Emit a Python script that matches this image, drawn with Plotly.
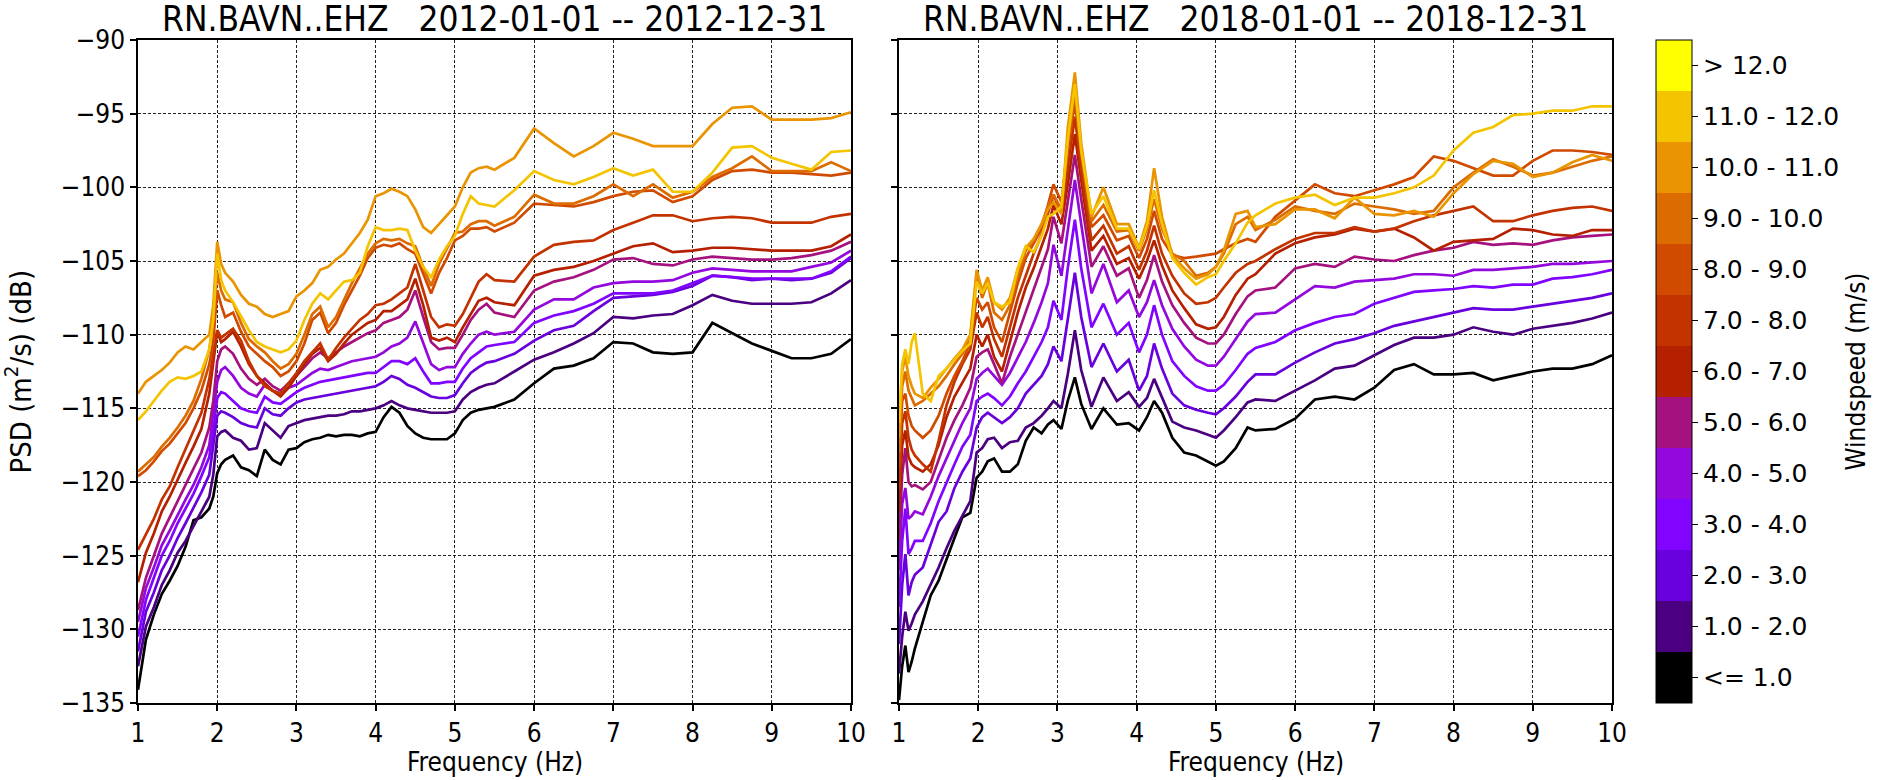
import plotly.graph_objects as go

# ---------------- data ----------------
FREQ_2012 = [1.0, 1.1, 1.2, 1.3, 1.4, 1.5, 1.6, 1.7, 1.8, 1.9,
             1.95, 2.0, 2.05,
             2.1, 2.2, 2.3, 2.4, 2.5, 2.6, 2.7, 2.8, 2.9, 3.0,
             3.1, 3.2, 3.3, 3.4, 3.5, 3.6, 3.7, 3.8, 3.9, 4.0,
             4.1, 4.2, 4.3, 4.4, 4.5, 4.6, 4.7, 4.8, 4.9, 5.0,
             5.1, 5.2, 5.3, 5.4, 5.5,
             5.75, 6.0, 6.25, 6.5, 6.75, 7.0, 7.25, 7.5, 7.75, 8.0, 8.25, 8.5, 8.75, 9.0, 9.25, 9.5, 9.75, 10.0]

PSD_2012_W00 = [-134.1, -130.7, -129.0, -127.6, -126.7, -125.7, -124.4, -122.6, -122.4, -121.8,
                -121.0, -119.4, -118.8,
                -118.5, -118.2, -119.0, -119.2, -119.6, -117.8, -118.5, -118.8, -117.8, -117.7,
                -117.3, -117.1, -117.0, -116.8, -116.9, -116.8, -116.8, -116.9, -116.7, -116.6,
                -115.6, -114.9, -115.3, -116.2, -116.7, -117.0, -117.1, -117.1, -117.1, -116.7,
                -115.8, -115.3, -115.1, -115.0, -114.9,
                -114.4, -113.3, -112.3, -112.1, -111.6, -110.5, -110.6, -111.2, -111.3, -111.2, -109.2, -109.9, -110.6, -111.1, -111.6, -111.6, -111.3, -110.3]
PSD_2012_W01 = [-132.5, -129.8, -128.5, -127.0, -126.0, -124.8, -124.0, -123.0, -122.0, -121.0,
                -119.5, -116.9, -116.6,
                -116.5, -117.0, -117.2, -117.8, -117.7, -116.0, -116.5, -117.0, -116.2, -116.0,
                -115.8, -115.7, -115.6, -115.5, -115.5, -115.4, -115.2, -115.2, -115.1, -115.0,
                -114.8, -114.5, -114.8, -115.0, -115.1, -115.2, -115.3, -115.3, -115.3, -115.2,
                -114.4, -113.9, -113.6, -113.4, -113.3,
                -112.5, -111.7, -111.2, -110.6, -109.9, -108.8, -108.9, -108.7, -108.6, -108.0, -107.3, -107.7, -107.9, -107.9, -107.9, -107.8, -107.2, -106.3]
PSD_2012_W02 = [-131.5, -128.8, -127.5, -126.0, -125.0, -123.8, -122.8, -121.8, -120.7, -119.5,
                -117.5, -115.5, -115.2,
                -115.3, -115.6, -116.0, -116.2, -116.3, -115.0, -115.4, -115.5, -115.0, -114.6,
                -114.4, -114.3, -114.2, -114.1, -114.0, -113.9, -113.8, -113.7, -113.6, -113.5,
                -113.2, -112.8, -113.0, -113.4, -113.6, -113.9, -114.2, -114.3, -114.3, -114.1,
                -113.3, -112.6, -112.2, -111.9, -111.8,
                -111.3, -110.4, -109.7, -109.4, -108.4, -107.5, -107.4, -107.3, -107.1, -106.7, -106.0, -106.1, -106.3, -106.2, -106.3, -106.2, -105.8, -104.8]
PSD_2012_W03 = [-130.5, -128.0, -126.5, -125.0, -124.0, -122.8, -121.8, -120.8, -119.6, -118.3,
                -116.5, -114.3, -113.9,
                -114.0, -114.5, -115.0, -115.2, -115.3, -114.2, -114.6, -114.7, -114.3, -113.9,
                -113.6, -113.4, -113.2, -113.1, -113.0, -112.9, -112.8, -112.7, -112.6, -112.6,
                -112.2, -111.8, -111.8, -112.0, -111.6, -112.5, -113.3, -113.3, -113.2, -113.2,
                -112.3, -111.6, -111.2, -110.8, -110.7,
                -110.5, -109.2, -108.7, -108.4, -107.9, -107.2, -107.2, -107.2, -107.0, -106.5, -106.0, -106.1, -106.2, -106.2, -106.2, -106.2, -105.7, -104.7]
PSD_2012_W04 = [-129.5, -127.2, -125.8, -124.3, -123.3, -122.2, -121.2, -120.2, -119.0, -117.5,
                -115.5, -113.2, -112.4,
                -112.2, -112.8, -113.6, -114.0, -114.2, -113.4, -113.8, -114.0, -113.6, -113.4,
                -113.0, -112.6, -112.3, -112.4, -112.2, -112.0, -111.8, -111.7, -111.6, -111.5,
                -111.2, -110.8, -110.6, -110.2, -109.1, -110.6, -112.0, -112.4, -112.2, -112.2,
                -111.3, -110.6, -110.0, -109.8, -110.0,
                -109.8, -108.3, -107.6, -107.6, -106.8, -106.5, -106.4, -106.4, -106.3, -105.8, -105.5, -105.6, -105.7, -105.7, -105.7, -105.4, -105.1, -104.3]
PSD_2012_W05 = [-128.7, -126.5, -125.0, -123.5, -122.4, -121.3, -120.2, -119.2, -118.0, -116.3,
                -114.5, -111.8, -111.0,
                -110.8, -111.3, -112.3, -113.0, -113.4, -113.0, -113.5, -113.8, -113.3, -112.8,
                -112.2, -111.6, -111.2, -111.6, -111.2, -110.8, -110.5, -110.2, -109.9, -109.7,
                -109.2, -109.0, -108.8, -108.3, -107.0, -108.8, -110.5, -111.0, -110.9, -110.9,
                -110.0, -109.0, -108.3, -107.9, -108.5,
                -108.8, -107.0, -106.4, -106.1, -105.6, -104.9, -104.8, -105.2, -105.3, -104.9, -104.7, -104.8, -104.9, -104.9, -104.8, -104.6, -104.3, -103.7]
PSD_2012_W06 = [-126.8, -124.8, -123.5, -122.0, -121.0, -119.8, -118.7, -117.6, -116.4, -114.0,
                -112.0, -109.8, -110.5,
                -110.3, -109.8, -110.8, -112.0, -112.8, -113.3, -113.8, -114.2, -113.6, -112.8,
                -112.0, -111.3, -110.9, -111.8, -111.3, -110.6, -110.0, -109.6, -109.2, -109.0,
                -108.4, -108.4, -108.0, -107.6, -106.2, -108.0, -110.2, -110.4, -110.2, -110.5,
                -109.5, -108.6, -107.7, -107.5, -107.8,
                -108.0, -106.0, -105.6, -105.4, -105.0, -104.5, -104.0, -103.8, -104.4, -104.3, -104.1, -104.1, -104.2, -104.3, -104.3, -104.3, -104.0, -103.2]
PSD_2012_W07 = [-124.6, -123.5, -122.5, -121.2, -120.3, -119.0, -117.8, -116.6, -115.3, -113.0,
                -111.2, -109.7, -110.2,
                -110.0, -109.6, -110.4, -111.8, -112.8, -113.5, -113.8, -114.0, -113.3, -112.6,
                -111.8, -111.2, -110.6, -111.7, -110.9, -110.2, -109.6, -109.0, -108.6, -108.0,
                -107.9, -107.6, -107.2, -106.8, -105.2, -107.0, -108.8, -109.5, -109.3, -109.4,
                -108.6, -107.5, -106.4, -105.9, -106.3,
                -106.4, -104.7, -103.9, -103.7, -103.6, -102.9, -102.4, -101.9, -101.9, -102.3, -102.1, -102.0, -102.1, -102.4, -102.4, -102.4, -102.0, -101.8]
PSD_2012_W08 = [-119.6, -119.2, -118.6, -117.9, -117.4, -116.7, -116.0, -115.0, -113.8, -112.0,
                -110.5, -107.0, -108.0,
                -108.8, -108.5, -109.8, -110.8, -111.3, -111.8, -112.2, -112.8, -112.5, -111.8,
                -110.6, -109.0, -108.5, -109.9, -109.2, -108.0, -107.0, -106.0, -104.8, -104.1,
                -103.9, -104.0, -103.8, -104.2, -104.5, -105.8, -107.2, -105.8, -104.8, -103.6,
                -103.3, -102.8, -102.8, -102.7, -103.0,
                -102.4, -101.1, -101.2, -101.3, -101.0, -100.6, -100.3, -100.2, -101.0, -100.6, -99.5, -98.9, -98.8, -99.0, -99.0, -99.1, -99.2, -99.0]
PSD_2012_W09 = [-119.3, -118.8, -118.3, -117.6, -117.0, -116.3, -115.5, -114.5, -113.0, -111.0,
                -109.0, -105.8, -107.0,
                -107.6, -107.8, -109.2, -110.3, -110.8, -111.2, -111.8, -112.3, -112.0, -111.3,
                -110.0, -108.6, -108.1, -109.5, -108.8, -107.6, -106.5, -105.5, -104.5, -103.8,
                -103.5, -103.6, -103.5, -103.8, -104.0, -105.4, -106.7, -105.2, -104.2, -103.1,
                -103.0, -102.5, -102.3, -102.3, -102.6,
                -102.0, -100.5, -101.1, -101.1, -100.6, -99.8, -100.6, -99.8, -100.7, -100.3, -99.3, -98.7, -97.9, -98.9, -98.9, -98.9, -98.3, -98.9]
PSD_2012_W10 = [-114.0, -113.2, -112.8, -112.4, -111.9, -111.2, -110.8, -111.0, -110.5, -110.0,
                -108.0, -103.7, -105.2,
                -105.8, -106.4, -107.3, -107.9, -108.1, -108.6, -108.8, -108.6, -108.4, -107.4,
                -107.0, -106.5, -105.6, -105.4, -104.9, -104.5, -103.8, -103.1, -102.2, -100.6,
                -100.4, -100.1, -100.3, -100.6, -101.5, -102.7, -103.1, -102.5, -101.9, -101.3,
                -100.0, -99.0, -98.7, -98.6, -98.8,
                -98.0, -96.0, -97.0, -97.9, -97.2, -96.3, -96.7, -97.2, -97.2, -97.2, -95.7, -94.6, -94.5, -95.4, -95.4, -95.4, -95.3, -94.9]
PSD_2012_W11 = [-115.8, -115.2, -114.5, -113.8, -113.2, -112.9, -113.0, -112.8, -112.5, -111.0,
                -109.0, -104.5, -106.3,
                -107.0, -107.8, -108.8, -109.7, -110.5, -110.8, -111.0, -111.2, -111.0, -110.4,
                -109.0, -107.9, -107.2, -107.6, -107.0, -106.4, -106.3, -105.8, -104.0, -102.7,
                -102.9, -102.9, -102.8, -102.9, -104.3, -105.4, -106.1, -104.9, -104.0, -103.3,
                -101.8, -100.6, -101.1, -101.2, -101.3,
                -100.2, -98.9, -99.5, -99.8, -99.3, -98.7, -99.2, -98.8, -100.3, -100.3, -99.0, -97.3, -97.2, -98.0, -98.4, -98.8, -97.6, -97.5]

FREQ_2018 = [1.0, 1.04, 1.08, 1.12, 1.16, 1.2, 1.3, 1.4, 1.5, 1.6, 1.7, 1.8, 1.9,
             1.98, 2.05, 2.12, 2.2, 2.3, 2.4, 2.5, 2.6, 2.7, 2.8,
             2.88, 2.95, 3.05, 3.13, 3.22, 3.3, 3.43, 3.58, 3.75, 3.9, 4.03, 4.13, 4.22, 4.32, 4.45,
             4.6, 4.75, 4.9, 5.0, 5.1, 5.25, 5.4, 5.5,
             5.75, 6.0, 6.25, 6.5, 6.75, 7.0, 7.25, 7.5, 7.75, 8.0, 8.25, 8.5, 8.75, 9.0, 9.25, 9.5, 9.75, 10.0]

PSD_2018_W00 = [-134.8, -132.5, -131.1, -132.9, -132.2, -131.3, -129.5, -127.7, -126.7, -125.2, -123.8, -122.4, -122.1,
                -119.7, -119.3, -118.6, -118.4, -119.3, -119.3, -118.8, -117.2, -116.3, -116.7,
                -116.1, -115.8, -116.4, -114.5, -112.9, -114.7, -116.4, -115.0, -116.1, -116.0, -116.5, -115.6, -114.5, -115.3, -117.0,
                -118.0, -118.2, -118.6, -118.9, -118.6, -117.7, -116.3, -116.5,
                -116.4, -115.7, -114.4, -114.2, -114.4, -113.6, -112.4, -112.0, -112.7, -112.7, -112.6, -113.1, -112.8, -112.5, -112.3, -112.3, -112.0, -111.4]
PSD_2018_W01 = [-133.0, -130.5, -128.8, -130.1, -129.6, -129.0, -128.1, -127.0, -125.8, -124.5, -123.3, -122.3, -121.3,
                -118.0, -117.7, -117.1, -117.0, -117.7, -117.3, -117.2, -116.3, -116.0, -115.5,
                -115.0, -114.5, -115.0, -112.7, -109.7, -112.4, -114.9, -112.9, -114.5, -113.9, -114.9, -114.3, -113.0, -114.3, -115.9,
                -116.3, -116.5, -116.8, -117.0, -116.5, -115.6, -114.6, -114.4,
                -114.5, -113.8, -113.1, -112.3, -112.1, -111.4, -110.7, -110.2, -110.2, -110.0, -109.5, -109.8, -110.0, -109.6, -109.4, -109.2, -108.9, -108.5]
PSD_2018_W02 = [-131.0, -127.0, -124.9, -127.7, -126.8, -126.3, -125.8, -124.3, -122.7, -122.0, -120.4, -119.3, -118.4,
                -116.3, -115.6, -115.3, -115.6, -116.0, -115.6, -115.0, -114.0, -113.4, -112.8,
                -112.0, -110.8, -111.8, -109.0, -105.8, -108.8, -112.2, -110.6, -112.5, -111.7, -113.8, -112.8, -110.6, -112.3, -114.0,
                -114.8, -115.1, -115.3, -115.4, -115.0, -114.2, -113.2, -112.7,
                -112.7, -111.9, -111.2, -110.6, -110.3, -109.9, -109.4, -109.1, -108.8, -108.5, -108.2, -108.3, -108.3, -108.1, -107.9, -107.7, -107.5, -107.2]
PSD_2018_W03 = [-128.5, -124.0, -121.8, -124.9, -124.5, -124.0, -124.0, -122.8, -121.3, -120.0, -118.8, -117.6, -116.8,
                -114.5, -114.2, -114.0, -114.3, -114.8, -114.2, -113.3, -112.5, -111.5, -110.5,
                -109.5, -107.7, -109.0, -105.5, -102.2, -105.5, -109.5, -107.9, -110.0, -109.2, -111.2, -110.0, -108.0, -110.0, -111.8,
                -112.8, -113.5, -113.8, -113.8, -113.4, -112.4, -111.3, -110.9,
                -110.5, -109.7, -109.2, -108.8, -108.6, -107.9, -107.5, -107.1, -107.0, -106.9, -106.7, -106.8, -106.6, -106.6, -106.2, -106.1, -105.9, -105.6]
PSD_2018_W04 = [-126.0, -121.5, -120.4, -122.5, -122.3, -122.0, -122.2, -121.0, -119.6, -118.4, -117.2, -116.0, -115.0,
                -113.0, -112.6, -112.3, -112.8, -113.4, -112.6, -111.6, -110.5, -109.2, -107.8,
                -106.5, -103.9, -106.0, -103.0, -99.5, -102.5, -107.2, -105.2, -107.8, -107.0, -108.8, -107.8, -106.3, -108.0, -109.6,
                -110.8, -111.7, -112.1, -112.1, -111.5, -110.3, -109.1, -108.6,
                -108.5, -107.6, -106.7, -106.8, -106.4, -106.3, -106.2, -105.9, -105.9, -106.0, -105.6, -105.6, -105.5, -105.4, -105.2, -105.2, -105.1, -105.0]
PSD_2018_W05 = [-124.0, -119.5, -117.7, -120.0, -120.3, -120.2, -120.5, -120.0, -118.5, -117.0, -115.8, -114.8, -113.6,
                -111.5, -111.2, -111.0, -112.0, -113.3, -111.5, -110.0, -108.5, -107.0, -105.5,
                -104.2, -102.0, -103.8, -101.0, -97.8, -100.8, -105.4, -104.0, -106.0, -105.5, -107.5, -106.3, -104.6, -106.4, -108.0,
                -109.2, -110.2, -110.6, -110.6, -110.0, -108.6, -107.4, -107.0,
                -106.8, -105.5, -105.2, -105.4, -104.7, -104.9, -105.0, -104.6, -104.3, -104.1, -103.7, -103.9, -103.8, -103.9, -103.6, -103.4, -103.3, -103.2]
PSD_2018_W06 = [-122.0, -117.5, -116.5, -118.3, -118.8, -119.0, -119.3, -118.8, -117.5, -115.6, -114.2, -113.2, -112.3,
                -110.0, -110.8, -110.0, -111.5, -112.5, -110.5, -108.5, -106.8, -105.5, -104.0,
                -102.8, -101.2, -102.5, -99.8, -96.4, -99.5, -104.3, -103.3, -105.2, -104.8, -106.2, -105.0, -103.6, -105.3, -107.0,
                -108.2, -109.3, -109.6, -109.5, -108.8, -107.3, -106.2, -105.9,
                -104.5, -103.8, -103.4, -103.2, -102.8, -103.0, -102.8, -103.4, -104.3, -103.7, -103.6, -103.5, -102.8, -102.9, -103.2, -103.3, -102.9, -102.9]
PSD_2018_W07 = [-120.5, -116.0, -115.2, -117.0, -117.8, -118.2, -118.8, -119.3, -117.2, -114.8, -113.2, -112.0, -111.0,
                -108.5, -109.5, -108.8, -110.3, -111.5, -109.5, -107.5, -106.0, -104.5, -103.2,
                -101.8, -100.5, -101.8, -98.8, -95.2, -98.8, -103.6, -102.6, -104.5, -104.0, -105.6, -104.3, -102.6, -104.5, -106.0,
                -107.2, -107.9, -107.8, -107.5, -106.8, -105.8, -105.2, -105.0,
                -104.2, -103.5, -103.1, -103.1, -102.7, -103.0, -102.8, -102.3, -101.9, -101.6, -101.3, -102.3, -102.3, -101.9, -101.6, -101.4, -101.3, -101.6]
PSD_2018_W08 = [-119.0, -114.5, -114.0, -115.5, -116.2, -116.5, -117.0, -116.5, -115.5, -114.0, -112.8, -111.8, -110.5,
                -107.5, -108.3, -107.8, -109.5, -110.5, -108.5, -106.5, -104.8, -103.8, -102.8,
                -101.2, -99.8, -101.0, -97.5, -94.2, -97.8, -102.7, -101.9, -103.6, -103.3, -104.8, -103.5, -101.6, -103.5, -104.6,
                -104.8, -104.7, -104.6, -104.5, -104.2, -103.8, -103.5, -103.7,
                -102.0, -100.9, -99.8, -100.4, -100.6, -100.2, -99.8, -99.3, -97.9, -98.2, -98.7, -99.2, -99.2, -98.2, -97.5, -97.5, -97.6, -97.8]
PSD_2018_W09 = [-118.0, -113.5, -112.5, -113.8, -114.3, -114.8, -114.5, -114.0, -113.5, -112.8, -112.0, -111.3, -110.2,
                -106.0, -107.5, -106.5, -108.5, -109.0, -108.0, -106.0, -104.3, -103.6, -102.5,
                -101.3, -100.5, -101.5, -97.0, -93.6, -97.5, -102.3, -101.2, -103.0, -102.9, -104.3, -102.8, -100.8, -102.8, -104.5,
                -105.0, -106.0, -105.8, -105.4, -104.5, -102.5, -102.0, -102.9,
                -102.2, -101.3, -101.6, -101.8, -101.1, -101.3, -101.5, -101.8, -101.6, -100.0, -99.0, -98.1, -98.6, -99.2, -99.0, -98.6, -98.2, -97.9]
PSD_2018_W10 = [-117.0, -112.5, -111.5, -112.8, -113.5, -114.0, -114.3, -113.6, -113.0, -112.3, -111.6, -111.0, -110.0,
                -105.6, -107.0, -106.1, -107.8, -108.3, -107.5, -105.5, -104.1, -103.5, -102.5,
                -101.5, -101.0, -101.8, -96.0, -92.2, -97.0, -102.0, -100.0, -102.5, -102.5, -104.1, -102.3, -98.7, -102.0, -104.6,
                -105.5, -106.2, -105.9, -105.4, -104.3, -101.8, -101.6, -102.7,
                -102.5, -101.5, -101.5, -102.1, -100.7, -101.8, -101.9, -101.6, -102.0, -100.4, -99.1, -98.2, -98.4, -99.3, -99.0, -98.3, -97.8, -98.2]
PSD_2018_W11 = [-116.0, -112.0, -111.0, -112.0, -110.5, -109.9, -114.0, -114.5, -112.8, -112.3, -111.7, -111.1, -110.6,
                -106.4, -107.2, -106.5, -107.8, -108.1, -107.8, -105.5, -104.0, -104.4, -103.3,
                -102.0, -101.8, -101.3, -96.8, -93.0, -97.5, -101.8, -100.6, -102.8, -102.8, -104.2, -102.6, -100.2, -102.5, -104.8,
                -105.8, -106.6, -106.1, -105.9, -105.0, -103.8, -102.4, -101.9,
                -101.1, -100.7, -100.5, -101.2, -100.7, -100.7, -100.4, -100.0, -99.2, -97.5, -96.3, -95.9, -95.1, -95.0, -94.8, -94.8, -94.5, -94.5]

WIND_LABELS = ["<= 1.0", "1.0 - 2.0", "2.0 - 3.0", "3.0 - 4.0", "4.0 - 5.0", "5.0 - 6.0",
               "6.0 - 7.0", "7.0 - 8.0", "8.0 - 9.0", "9.0 - 10.0", "10.0 - 11.0", "11.0 - 12.0", "> 12.0"]
BIN_COLORS = ["#000000", "#4a0080", "#6801dd", "#8004ff", "#9309dd", "#a51280", "#b42000",
              "#c33300", "#d04b00", "#dd6c00", "#e99400", "#f4c400", "#ffff00"]
TITLE_2012 = "RN.BAVN..EHZ   2012-01-01 -- 2012-12-31"
TITLE_2018 = "RN.BAVN..EHZ   2018-01-01 -- 2018-12-31"
X_TITLE = "Frequency (Hz)"
Y_TITLE = "PSD (m<sup>2</sup>/s) (dB)"
CB_TITLE = "Windspeed (m/s)"
X_TICKS = [1, 2, 3, 4, 5, 6, 7, 8, 9, 10]
Y_TICKS = [-135, -130, -125, -120, -115, -110, -105, -100, -95, -90]

# ---------------- figure ----------------
W, H = 1879, 780
FONT = "DejaVu Sans"
FONT_C = "DejaVu Sans Condensed, DejaVu Sans"

series_2012 = [PSD_2012_W00, PSD_2012_W01, PSD_2012_W02, PSD_2012_W03, PSD_2012_W04, PSD_2012_W05,
               PSD_2012_W06, PSD_2012_W07, PSD_2012_W08, PSD_2012_W09, PSD_2012_W10, PSD_2012_W11]
series_2018 = [PSD_2018_W00, PSD_2018_W01, PSD_2018_W02, PSD_2018_W03, PSD_2018_W04, PSD_2018_W05,
               PSD_2018_W06, PSD_2018_W07, PSD_2018_W08, PSD_2018_W09, PSD_2018_W10, PSD_2018_W11]

fig = go.Figure()
for i, ys in enumerate(series_2012):
    fig.add_trace(go.Scatter(x=FREQ_2012, y=ys, mode="lines", xaxis="x", yaxis="y",
                             line=dict(color=BIN_COLORS[i], width=2.7),
                             name=WIND_LABELS[i], showlegend=False, hoverinfo="skip"))
for i, ys in enumerate(series_2018):
    fig.add_trace(go.Scatter(x=FREQ_2018, y=ys, mode="lines", xaxis="x2", yaxis="y2",
                             line=dict(color=BIN_COLORS[i], width=2.7),
                             name=WIND_LABELS[i], showlegend=False, hoverinfo="skip"))

n = len(BIN_COLORS)
cscale = []
for k, c in enumerate(BIN_COLORS):
    cscale.append([k / n, c])
    cscale.append([(k + 1) / n, c])

fig.add_trace(go.Scatter(
    x=[None], y=[None], mode="markers", showlegend=False, hoverinfo="skip",
    marker=dict(color=[0], colorscale=cscale, cmin=-0.5, cmax=n - 0.5, showscale=True,
                colorbar=dict(
                    x=1656 / W, xanchor="left", xref="paper", xpad=0,
                    y=1 - 40 / H, yanchor="top", yref="paper", ypad=0,
                    len=663 / H, lenmode="fraction",
                    thickness=36, thicknessmode="pixels",
                    outlinewidth=1, outlinecolor="black",
                    tickmode="array", tickvals=list(range(n)), ticktext=WIND_LABELS,
                    ticks="outside", ticklen=6, tickwidth=1.2, tickcolor="black",
                    tickfont=dict(family=FONT, size=25, color="black"),
                ))))

xdom1 = [138 / W, 851 / W]
xdom2 = [899 / W, 1612 / W]
ydom = [1 - 703 / H, 1 - 40 / H]
ymid = (ydom[0] + ydom[1]) / 2

common_x = dict(range=[1, 10], tickmode="array", tickvals=X_TICKS,
                showgrid=True, gridcolor="#222222", gridwidth=1, griddash="3px,2px",
                showline=True, mirror=True, linecolor="black", linewidth=1.5,
                ticks="outside", ticklen=6, tickwidth=1.5, tickcolor="black",
                tickfont=dict(family=FONT_C, size=26, color="black"),
                zeroline=False, automargin=False)
common_y = dict(range=[-135, -90], tickmode="array", tickvals=Y_TICKS,
                showgrid=True, gridcolor="#222222", gridwidth=1, griddash="3px,2px",
                showline=True, mirror=True, linecolor="black", linewidth=1.5,
                ticks="outside", ticklen=6, tickwidth=1.5, tickcolor="black",
                tickfont=dict(family=FONT_C, size=26, color="black"),
                zeroline=False, automargin=False)

def ann(text, x, y, size, angle=0, family=FONT_C):
    return dict(text=text, x=x, y=y, xref="paper", yref="paper", xanchor="center", yanchor="middle",
                showarrow=False, textangle=angle, font=dict(family=family, size=size, color="black"))

fig.update_layout(
    width=W, height=H, autosize=False,
    margin=dict(l=0, r=0, t=0, b=0, pad=0),
    paper_bgcolor="white", plot_bgcolor="white",
    font=dict(family=FONT, color="black"),
    showlegend=False,
    xaxis=dict(domain=xdom1, anchor="y", **common_x),
    yaxis=dict(domain=ydom, anchor="x", **common_y),
    xaxis2=dict(domain=xdom2, anchor="y2", **common_x),
    yaxis2=dict(domain=ydom, anchor="x2", showticklabels=False, **common_y),
    annotations=[
        ann(TITLE_2012, (xdom1[0] + xdom1[1]) / 2, 1 - 19 / H, 35),
        ann(TITLE_2018, (xdom2[0] + xdom2[1]) / 2, 1 - 19 / H, 35),
        ann(X_TITLE, (xdom1[0] + xdom1[1]) / 2, 1 - 762 / H, 26),
        ann(X_TITLE, (xdom2[0] + xdom2[1]) / 2, 1 - 762 / H, 26),
        ann(Y_TITLE, 18 / W, ymid, 29, angle=-90),
        ann(CB_TITLE, 1855 / W, ymid, 26, angle=-90),
    ],
)

fig.write_html("out.html")
